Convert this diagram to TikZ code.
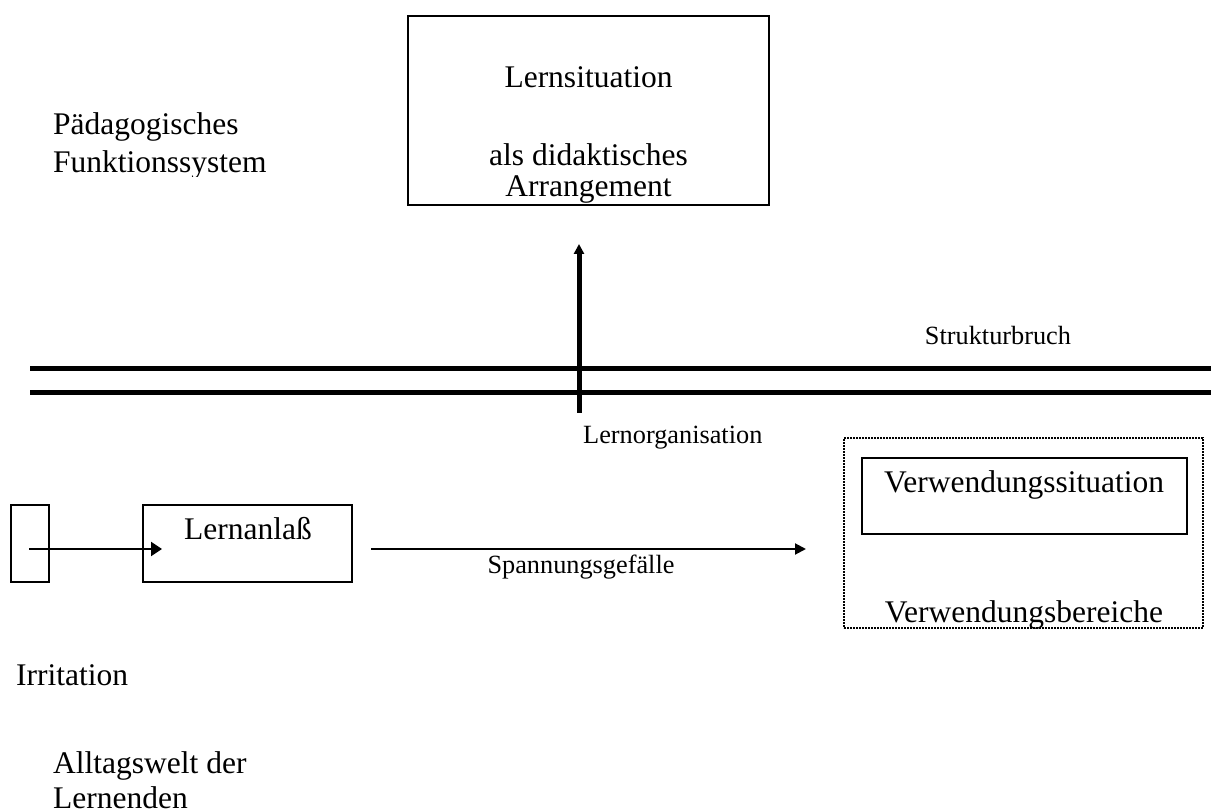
\documentclass[tikz,border=0pt]{standalone}
\usepackage{fontspec}
\setmainfont{Liberation Serif}
\usetikzlibrary{arrows.meta}
\begin{document}
\begin{tikzpicture}[x=1pt,y=-1pt,
  big/.style={font=\fontsize{31.5}{36}\selectfont, inner sep=0pt, anchor=base},
  bigleft/.style={big, anchor=base west},
  small/.style={font=\fontsize{26.3}{30}\selectfont, inner sep=0pt, anchor=base},
  frame/.style={draw, line width=2pt, inner sep=0pt, outer sep=0pt, anchor=north west},
  dotframe/.style={frame, line width=1.6pt, dash pattern=on 1.6pt off 1.4pt},
  rule/.style={line width=5pt},
  conn/.style={line width=2pt, -{Triangle[length=11pt,width=14pt]}},
  thinconn/.style={line width=2pt, -{Triangle[length=11pt,width=11pt]}},
  upconn/.style={line width=5pt, -{Triangle[length=10pt,width=10pt]}},
]
\useasboundingbox (0,0) rectangle (1211,810);
\fill[white] (0,0) rectangle (1211,810);

% upper region: the pedagogical system
\node[frame, minimum width=361pt, minimum height=189pt] (sit) at (408,16) {};
\node[big] (sit1) at (588.5,88) {Lernsituation};
\node[big] (sit2) at (588.5,166) {als didaktisches};
\begin{scope}
  \clip (400,0) rectangle (780,205);
  \node[big] (sit3) at (588.5,197) {Arrangement};
\end{scope}

\node[bigleft] (sys1) at (53,135) {Pädagogisches};
\begin{scope}
  \clip (0,140) rectangle (400,177);
  \node[bigleft] (sys2) at (53,173) {Funktionssystem};
\end{scope}

% the structural break
\coordinate (r1a) at (30,369);
\coordinate (r1b) at (1211,369);
\coordinate (r2a) at (30,393);
\coordinate (r2b) at (1211,393);
\draw[rule] (r1a) -- (r1b);
\draw[rule] (r2a) -- (r2b);
\node[small] (bruch) at (998,345) {Strukturbruch};

% learning organisation crossing the break
\coordinate (orgfoot) at (579,413);
\coordinate (orghead) at (579,244);
\draw[upconn] (orgfoot) -- (orghead);
\node[small, anchor=base west] (org) at (583,443) {Lernorganisation};

% lower region: everyday world of the learners
\node[frame, minimum width=38pt, minimum height=77pt] (irr) at (11,505) {};
\node[frame, minimum width=209pt, minimum height=77pt] (anlass) at (143,505) {};
\node[big] (anlasstxt) at (248,539) {Lernanlaß};
\coordinate (irrstart) at (29,549);
\coordinate (anlasshead) at (162,549);
\draw[conn] (irrstart) -- (anlasshead);

\coordinate (gstart) at (371,549);
\coordinate (gend) at (806,549);
\draw[thinconn] (gstart) -- (gend);
\node[small] (gefaelle) at (581,573) {Spannungsgefälle};

\node[dotframe, minimum width=359pt, minimum height=190pt] (bereich) at (844,438) {};
\node[frame, minimum width=325pt, minimum height=76pt] (verw) at (862,458) {};
\node[big] (verwtxt) at (1024,492) {Verwendungssituation};
\begin{scope}
  \clip (844,560) rectangle (1203,628);
  \node[big] (bertxt) at (1024,622) {Verwendungsbereiche};
\end{scope}

\node[bigleft] (irrtxt) at (16,685) {Irritation};
\node[bigleft] (welt1) at (53,773) {Alltagswelt der};
\node[bigleft] (welt2) at (53,808) {Lernenden};
\end{tikzpicture}
\end{document}
